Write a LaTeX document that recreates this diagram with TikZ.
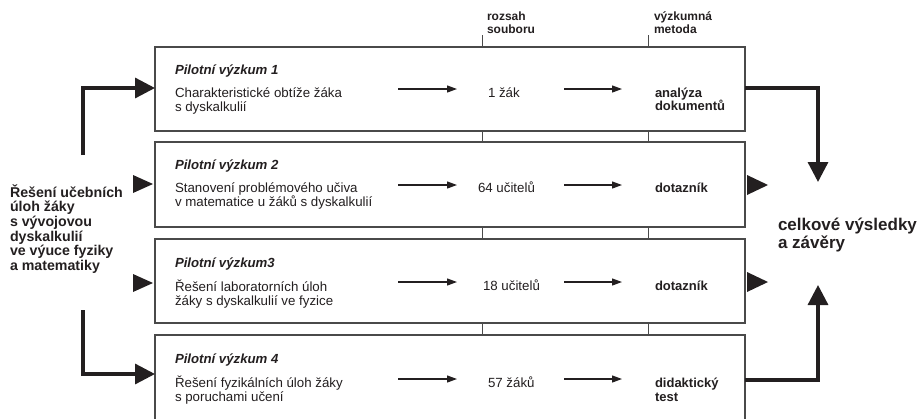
\documentclass[tikz,border=0pt]{standalone}
\usepackage{fontspec}
\setmainfont{Liberation Sans}
\usetikzlibrary{arrows.meta}
\definecolor{ink}{HTML}{231F20}
\definecolor{frame}{HTML}{4A4A4A}
\tikzset{
  boxst/.style={draw=frame, line width=1.1pt, fill=white, inner sep=0pt, outer sep=0pt, anchor=north west, minimum width=590pt},
  txt/.style={anchor=base west, inner sep=0pt, outer sep=0pt, text=ink},
  ttl/.style={txt, font=\fontsize{13.2}{14.5}\selectfont\bfseries\itshape},
  body/.style={txt, align=left, font=\fontsize{13.3}{14.5}\selectfont},
  meth/.style={txt, align=left, font=\fontsize{13}{13.5}\selectfont\bfseries},
  hdr/.style={txt, align=left, font=\fontsize{12}{13.5}\selectfont\bfseries},
  thin/.style={draw=ink, line width=1.2pt, -{Triangle[length=10pt,width=7pt]}},
  thick/.style={draw=ink, line width=3.3pt, -{Triangle[length=20pt,width=20pt]}},
  tick/.style={draw=frame, line width=1pt},
  head/.style={fill=ink},
}
\begin{document}
\begin{tikzpicture}[x=1pt,y=-1pt]
\useasboundingbox (0,0) rectangle (917,418);
% boxes
\node[boxst, minimum height=84pt] (b1) at (155,47) {};
\node[boxst, minimum height=85pt] (b2) at (155,142) {};
\node[boxst, minimum height=84pt] (b3) at (155,239) {};
\node[boxst, minimum height=85pt] (b4) at (155,335) {};
% column ticks
\coordinate (c1) at (482,0);
\coordinate (c2) at (648,0);
\foreach \c in {c1,c2}{
  \draw[tick] (b1.north -| \c) -- ++(0,-12);
  \draw[tick] (b1.south -| \c) -- (b2.north -| \c);
  \draw[tick] (b2.south -| \c) -- (b3.north -| \c);
  \draw[tick] (b3.south -| \c) -- (b4.north -| \c);
}
% headers (anchor = baseline of last line)
\node[hdr] (h1) at (487,33.5) {rozsah\\souboru};
\node[hdr] (h2) at (654,33.5) {výzkumná\\metoda};
% box 1
\node[ttl] (t1) at (175,74) {Pilotní výzkum 1};
\node[body] (d1) at (175,111.5) {Charakteristické obtíže žáka\\s dyskalkulií};
\node[body] (n1) at (488,97) {1 žák};
\node[meth] (m1) at (655,110.5) {analýza\\dokumentů};
% box 2
\node[ttl] (t2) at (175,169) {Pilotní výzkum 2};
\node[body] (d2) at (175,206.5) {Stanovení problémového učiva\\v matematice u žáků s dyskalkulií};
\node[body] (n2) at (478,192) {64 učitelů};
\node[meth] (m2) at (655,192) {dotazník};
% box 3
\node[ttl] (t3) at (175,267) {Pilotní výzkum3};
\node[body] (d3) at (175,305.5) {Řešení laboratorních úloh\\žáky s dyskalkulií ve fyzice};
\node[body] (n3) at (483,290) {18 učitelů};
\node[meth] (m3) at (655,290) {dotazník};
% box 4
\node[ttl] (t4) at (175,363) {Pilotní výzkum 4};
\node[body] (d4) at (175,401.5) {Řešení fyzikálních úloh žáky\\s poruchami učení};
\node[body] (n4) at (488,387) {57 žáků};
\node[meth] (m4) at (655,401) {didaktický\\test};
% thin arrows
\foreach \i/\y in {1/89,2/185,3/282,4/379}{
  \coordinate (pa\i) at (398,\y);
  \coordinate (pb\i) at (457,\y);
  \coordinate (qa\i) at (564,\y);
  \coordinate (qb\i) at (622,\y);
  \draw[thin] (pa\i) -- (pb\i);
  \draw[thin] (qa\i) -- (qb\i);
}
% left label
\node[txt, align=left, font=\fontsize{14.2}{14.7}\selectfont\bfseries] (src) at (10,270.5)
  {Řešení učebních\\úloh žáky\\s vývojovou\\dyskalkulií\\ve výuce fyziky\\a matematiky};
% right label
\node[txt, align=left, font=\fontsize{17}{18.5}\selectfont\bfseries] (res) at (778,248.5)
  {celkové výsledky\\a závěry};
% big left arrows
\coordinate (ls1) at (83,155);
\coordinate (ls4) at (83,310);
\draw[thick] (ls1) |- (b1.west |- 0,88);
\draw[thick] (ls4) |- (b4.west |- 0,374);
\fill[head] (133,175) -- (153,184) -- (133,193) -- cycle;
\fill[head] (133,274) -- (153,283) -- (133,292) -- cycle;
% big right arrows
\coordinate (rt1) at (818,182);
\coordinate (rt4) at (818,285);
\draw[thick] (b1.east |- 0,88) -| (rt1);
\draw[thick] (b4.east |- 0,380) -| (rt4);
\fill[head] (747,175) -- (768,185) -- (747,195) -- cycle;
\fill[head] (747,272) -- (768,282) -- (747,292) -- cycle;
\end{tikzpicture}
\end{document}
